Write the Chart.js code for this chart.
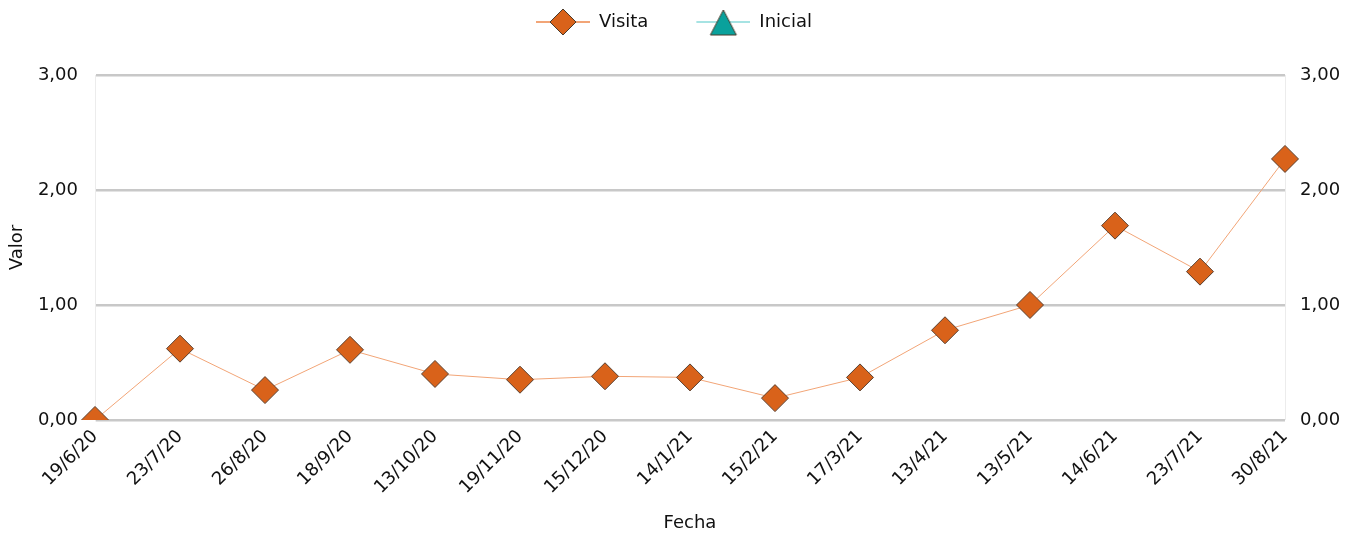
<!DOCTYPE html>
<html>
<head>
<meta charset="utf-8">
<script src="https://cdn.jsdelivr.net/npm/chart.js@4"></script>
<style>
html,body{margin:0;padding:0;background:#fff;}
#wrap{width:1361px;height:534px;}
</style>
</head>
<body>
<div id="wrap"><canvas id="c" width="1361" height="534"></canvas></div>
<script>
const categories = ['19/6/20','23/7/20','26/8/20','18/9/20','13/10/20','19/11/20','15/12/20','14/1/21','15/2/21','17/3/21','13/4/21','13/5/21','14/6/21','23/7/21','30/8/21'];
const visita = [0.00,0.62,0.26,0.61,0.40,0.35,0.38,0.37,0.19,0.37,0.78,1.00,1.69,1.29,2.27];
const inicial = [null,null,null,null,null,null,null,null,null,null,null,null,null,null,null];
const yTicks = [0,1,2,3];

const FONT = 'DejaVu Sans';
const visitaFill = '#d9621a';
const visitaLine = '#f2a577';
const inicialFill = '#0aa19c';
const inicialLine = '#a6e3e3';

const ICON_BLANK = 36;
const ICON_W = 56;
function legendIcon(kind){
  const cv = document.createElement('canvas');
  cv.width = ICON_BLANK + ICON_W; cv.height = 30;
  const g = cv.getContext('2d');
  const o = ICON_BLANK;
  g.strokeStyle = kind==='d' ? visitaLine : inicialLine;
  g.lineWidth = 2;
  g.beginPath(); g.moveTo(o+2,15); g.lineTo(o+56,15); g.stroke();
  g.fillStyle = kind==='d' ? visitaFill : inicialFill;
  g.strokeStyle = '#4a3a2a';
  g.lineWidth = 1;
  g.beginPath();
  const cx = o + 29;
  if(kind==='d'){
    g.moveTo(cx,2); g.lineTo(cx+13,15); g.lineTo(cx,28); g.lineTo(cx-13,15); g.closePath();
  } else {
    g.moveTo(cx,3); g.lineTo(cx+13,28); g.lineTo(cx-13,28); g.closePath();
  }
  g.fill(); g.stroke();
  return cv;
}
const icons = [legendIcon('d'), legendIcon('t')];

function fmt(v){ return Number(v).toFixed(2).replace('.',','); }

const legendSpacer = {
  id: 'legendSpacer',
  beforeInit(chart){
    const l = chart.legend;
    if (!l || l._patched) return;
    const f = l.fit;
    l.fit = function(){
      f.call(this);
      this.height += 34;
      if (this.lineWidths && this.lineWidths.length) this.lineWidths[0] += ICON_BLANK + 10;
    };
    l._patched = true;
  }
};

new Chart(document.getElementById('c'), {
  type: 'line',
  data: {
    labels: categories,
    datasets: [
      {label:'Visita', data: visita, borderColor: visitaLine, backgroundColor: visitaFill, borderWidth: 1,
       pointStyle:'rectRot', pointRadius: 13.5, pointBorderColor:'#5a4030', pointBorderWidth:1, pointHoverRadius:13.5, yAxisID:'y'},
      {label:'Inicial', data: inicial, borderColor: inicialLine, backgroundColor: inicialFill, borderWidth: 1,
       pointStyle:'triangle', pointRadius: 13, pointBorderColor:'#333', pointBorderWidth:1, yAxisID:'y'}
    ]
  },
  plugins: [legendSpacer],
  options: {
    responsive: false,
    animation: false,
    layout: {padding: {left: 0, right: 5, top: 3, bottom: 0}},
    plugins: {
      tooltip: {enabled:false},
      legend: {
        position: 'top',
        labels: {
          font: {family: FONT, size: 18},
          color: '#111',
          usePointStyle: true,
          pointStyleWidth: ICON_BLANK + ICON_W,
          padding: 10,
          generateLabels: (chart) => chart.data.datasets.map((ds,i)=>({
            text: ds.label, pointStyle: icons[i], datasetIndex: i, hidden:false,
            fontColor:'#111', lineWidth:0, strokeStyle:'transparent', fillStyle:'transparent'
          }))
        }
      }
    },
    scales: {
      x: {
        grid: {display:false, drawTicks:false},
        border: {display:false},
        ticks: {font:{family:FONT,size:18}, color:'#111', maxRotation:45, minRotation:45, padding:6, autoSkip:false},
        title: {display:true, text:'Fecha', font:{family:FONT,size:18}, color:'#111', padding:{top:8,bottom:0}},
        afterFit: (s)=>{ s.paddingLeft = 0; s.paddingRight = 0; }
      },
      y: {
        position:'left', min:0, max:3,
        afterBuildTicks: (s)=>{ s.ticks = yTicks.map(v=>({value:v})); },
        grid: {color:'#c8c8c8', lineWidth:2.5, drawTicks:false},
        border: {display:true, color:'#ececec', width:1},
        ticks: {font:{family:FONT,size:18}, color:'#111', padding:17, callback:(v)=>fmt(v)},
        title: {display:true, text:'Valor', font:{family:FONT,size:18}, color:'#111', padding:{top:7,bottom:8}},
        afterFit: (s)=>{ s.width = 95; }
      },
      y2: {
        position:'right', min:0, max:3,
        afterBuildTicks: (s)=>{ s.ticks = yTicks.map(v=>({value:v})); },
        grid: {display:false, drawTicks:false},
        border: {display:true, color:'#ececec', width:1},
        ticks: {font:{family:FONT,size:18}, color:'#111', padding:15, callback:(v)=>fmt(v)},
        afterFit: (s)=>{ s.width = 71; }
      }
    }
  }
});
</script>
</body>
</html>
